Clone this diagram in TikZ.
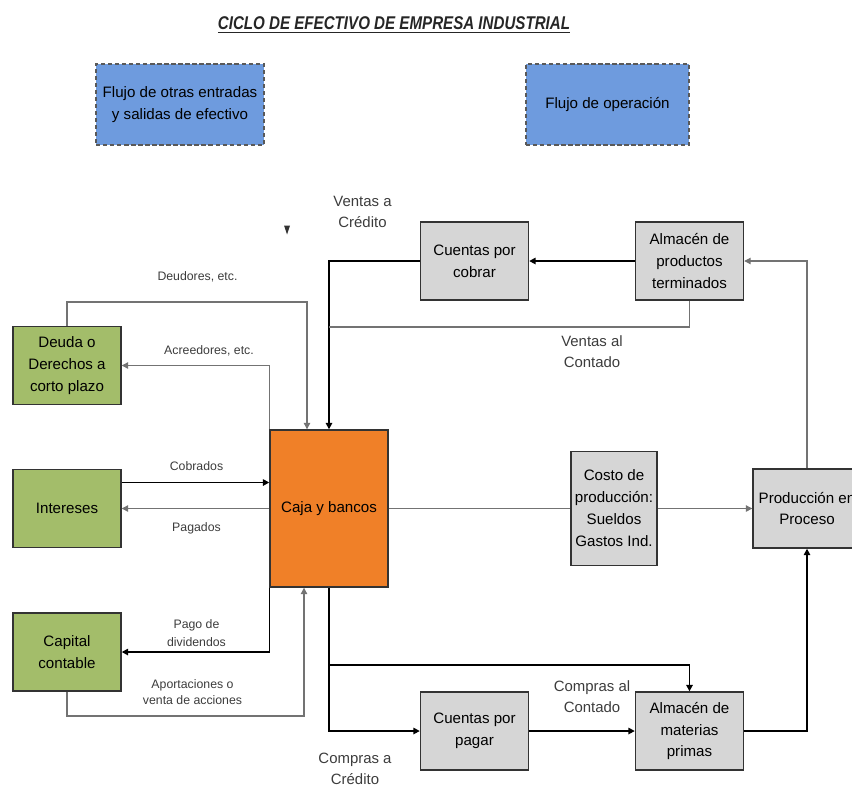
\documentclass[tikz,border=0pt]{standalone}
\usepackage{fontspec}
\setmainfont{Liberation Sans}
\usetikzlibrary{positioning,arrows.meta,calc}
\tikzset{>={Triangle[width=3.6pt,length=3.6pt]}}
\definecolor{flujoazul}{RGB}{110,155,222}
\definecolor{verdecuenta}{RGB}{163,189,106}
\definecolor{naranjacaja}{RGB}{240,128,40}
\definecolor{grisbloque}{RGB}{214,214,214}
\definecolor{textogris}{RGB}{60,60,60}

\begin{document}
\begin{tikzpicture}[
    on grid,
    box/.style={
        draw=black!80,
        line width=0.8pt,
        align=center,
        inner sep=1pt,
        minimum width=2.16cm,
        minimum height=1.56cm,
        font=\fontsize{8.6}{12.5}\selectfont
        },
    greenbox/.style={box, fill=verdecuenta},
    graybox/.style={box, fill=grisbloque},
    bluebox/.style={box, fill=flujoazul, draw=black!65, dash pattern=on 2.5pt off 1.5pt, minimum height=1.62cm},
    tag/.style={align=center, text=textogris, font=\fontsize{7}{10}\selectfont},
    bigtag/.style={align=center, text=textogris, font=\fontsize{8.5}{12}\selectfont},
    grayline/.style={draw=black!55, line width=0.6pt},
    blackline/.style={draw=black, line width=0.9pt}
    ]
    \useasboundingbox (0,0) rectangle (17.04,-15.72);
    \clip (0,0) rectangle (17.04,-15.72);

    \node[font=\bfseries\itshape\fontsize{10.5}{12}\selectfont, text=black!85] (titulo) at (7.88,-0.50) {\scalebox{0.82}[1]{\underline{CICLO DE EFECTIVO DE EMPRESA INDUSTRIAL}}};
    \node[bluebox, minimum width=3.36cm] (otros) at (3.60,-2.09) {Flujo de otras entradas\\y salidas de efectivo};
    \node[bluebox, minimum width=3.26cm] (operacion) at (12.15,-2.09) {Flujo de operación};

    % bloques
    \node[box, fill=naranjacaja, minimum width=2.36cm, minimum height=3.14cm] (caja) at (6.58,-10.17) {Caja y bancos};
    \node[graybox] (cobrar) [above right = 4.95cm and 2.91cm of caja] {Cuentas por\\cobrar};
    \node[graybox] (almpt) [right = 4.30cm of cobrar] {Almacén de\\productos\\terminados};
    \node[greenbox] (intereses) [left = 5.24cm of caja] {Intereses};
    \node[greenbox] (deuda) [above = 2.86cm of intereses] {Deuda o\\Derechos a\\corto plazo};
    \node[greenbox] (capital) [below = 2.87cm of intereses] {Capital\\contable};
    \node[graybox, minimum width=1.72cm, minimum height=2.28cm] (costo) [right = 5.70cm of caja] {Costo de\\producción:\\Sueldos\\Gastos Ind.};
    \node[graybox, minimum height=1.58cm] (produccion) [right = 3.86cm of costo] {Producción en\\Proceso};
    \node[graybox] (pagar) [below = 9.40cm of cobrar] {Cuentas por\\pagar};
    \node[graybox] (almmp) [right = 4.30cm of pagar] {Almacén de\\materias\\primas};

    % etiquetas
    \node[bigtag] (ventascredito) at (7.25,-4.24) {Ventas a\\Crédito};
    \node[tag] (deudores) at (3.95,-5.54) {Deudores, etc.};
    \node[tag] (acreedores) at (4.18,-7.02) {Acreedores, etc.};
    \node[bigtag] (ventascontado) at (11.84,-7.04) {Ventas al\\Contado};
    \node[tag] (cobrados) at (3.93,-9.33) {Cobrados};
    \node[tag] (pagados) at (3.93,-10.57) {Pagados};
    \node[tag] (dividendos) at (3.93,-12.66) {Pago de\\dividendos};
    \node[tag, font=\fontsize{7}{9.4}\selectfont] (aportaciones) at (3.85,-13.84) {Aportaciones o\\venta de acciones};
    \node[bigtag] (comprascontado) at (11.84,-13.93) {Compras al\\Contado};
    \node[bigtag] (comprascredito) at (7.10,-15.38) {Compras a\\Crédito};
    \fill[black!80] (5.68,-4.51) -- (5.80,-4.51) -- (5.74,-4.69) -- cycle;

    \coordinate (deudores turn) at (6.14,-6.04);
    \coordinate (contado sale) at (6.58,-6.54);
    \coordinate (aporte turn) at (6.08,-14.32);
    \coordinate (compras turn) at (6.58,-13.30);

    % flujos
    \draw[grayline, ->] (deuda.north) |- (deudores turn) -- (deudores turn |- caja.north);
    \draw[blackline, ->] (cobrar.west) -| (caja.north);
    \draw[grayline] (almpt.south) |- (contado sale);
    \draw[blackline, ->] (almpt.west) -- (cobrar.east);
    \draw[grayline, ->] (caja.north west) |- (deuda.east);
    \draw[blackline, ->] ([yshift=0.52cm]intereses.east) -- ([yshift=0.52cm]intereses.east -| caja.west);
    \draw[grayline, ->] (caja.west) -- (intereses.east);
    \draw[blackline, ->] (caja.south west) |- (capital.east);
    \draw[grayline, ->] (capital.south) |- (aporte turn) -- (aporte turn |- caja.south);
    \draw[grayline] (caja.east) -- (costo.west);
    \draw[grayline, ->] (costo.east) -- (produccion.west);
    \draw[blackline, ->] (caja.south) |- (pagar.west);
    \draw[blackline, ->] (compras turn) -| (almmp.north);
    \draw[blackline, ->] (pagar.east) -- (almmp.west);
    \draw[blackline, ->] (almmp.east) -| (produccion.south);
    \draw[grayline, ->] (produccion.north) |- (almpt.east);
\end{tikzpicture}
\end{document}
